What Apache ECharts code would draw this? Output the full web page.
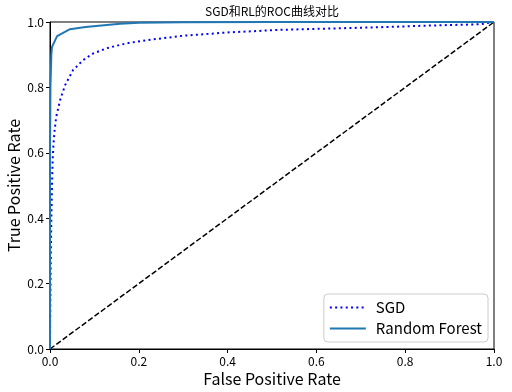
<!DOCTYPE html>
<html><head><meta charset="utf-8">
<script src="https://cdn.jsdelivr.net/npm/echarts@6/dist/echarts.min.js"></script>
<style>html,body{margin:0;padding:0;background:#fff}#c{width:512px;height:392px}</style>
</head><body><div id="c"></div>
<script>
const titleText = 'SGD和RL的ROC曲线对比';
const xName = 'False Positive Rate';
const yName = 'True Positive Rate';
const ticks = [0, 0.2, 0.4, 0.6, 0.8, 1.0];
const sgdFpr = [0,0.0005,0.0015,0.003,0.0045,0.006,0.008,0.0105,0.014,0.0225,0.034,0.052,0.075,0.0975,0.128,0.173,0.233,0.3,0.4,0.518,0.63,0.743,0.85,0.968,1];
const sgdTpr = [0,0.1,0.25,0.4,0.5,0.58,0.63,0.67,0.71,0.76,0.807,0.853,0.884,0.904,0.92,0.935,0.947,0.958,0.968,0.976,0.98,0.984,0.989,0.993,1];
const rfFpr = [0,0,0.001,0.003,0.0045,0.016,0.045,0.08,0.158,0.2,0.3,0.5,1];
const rfTpr = [0,0.6,0.8,0.9,0.924,0.957,0.978,0.985,0.995,0.998,0.999,1,1];
const diagX = [0,1];
const diagY = [0,1];

const zip = (a,b) => a.map((v,i)=>[v,b[i]]);
const font = '"Noto Sans CJK SC", "DejaVu Sans", sans-serif';
const chart = echarts.init(document.getElementById('c'));
chart.setOption({
  animation:false,
  title:{text:titleText,left:272,top:5,padding:0,textAlign:'center',textStyle:{fontSize:12,fontWeight:'normal',color:'#000',fontFamily:font}},
  grid:{left:50,right:18,top:22,bottom:43,containLabel:false,outerBoundsMode:'none',show:true,borderColor:'#000',borderWidth:1,backgroundColor:'transparent'},
  xAxis:{type:'value',min:0,max:1,interval:0.2,name:xName,nameLocation:'middle',nameGap:22,nameMoveOverlap:false,
    nameTextStyle:{fontSize:16,color:'#000',fontFamily:font},
    axisLine:{show:true,lineStyle:{color:'#000'}},axisTick:{show:true,length:4,lineStyle:{color:'#000'}},
    axisLabel:{fontSize:12,color:'#000',fontFamily:font,margin:6,formatter:v=>v.toFixed(1)},splitLine:{show:false}},
  yAxis:{type:'value',min:0,max:1,interval:0.2,name:yName,nameLocation:'middle',nameGap:28,nameMoveOverlap:false,
    nameTextStyle:{fontSize:16,color:'#000',fontFamily:font},
    axisLine:{show:true,lineStyle:{color:'#000'}},axisTick:{show:true,length:4,lineStyle:{color:'#000'}},
    axisLabel:{fontSize:12,color:'#000',fontFamily:font,margin:6,formatter:v=>v.toFixed(1)},splitLine:{show:false}},
  legend:{data:['SGD','Random Forest'],right:24,bottom:50,orient:'vertical',itemWidth:36,itemHeight:12,itemGap:6,
    padding:[6,6,6,5],borderColor:'#ccc',borderWidth:1,borderRadius:4,backgroundColor:'rgba(255,255,255,0.8)',
    itemStyle:{opacity:0},
    textStyle:{fontSize:15,color:'#000',fontFamily:font,padding:[0,0,0,5]}},
  series:[
    {type:'line',name:'diag',data:zip(diagX,diagY),showSymbol:false,symbol:'none',lineStyle:{color:'#000',width:1.5,type:[5.5,2.4]},z:1},
    {type:'line',name:'SGD',data:zip(sgdFpr,sgdTpr),showSymbol:false,symbol:'none',smooth:false,lineStyle:{color:'#0000ff',width:2,type:[2,3.3],cap:'butt'},itemStyle:{color:'#0000ff'},z:2},
    {type:'line',name:'Random Forest',data:zip(rfFpr,rfTpr),showSymbol:false,symbol:'none',lineStyle:{color:'#1f77b4',width:2},itemStyle:{color:'#1f77b4'},z:3}
  ]
});
</script></body></html>
